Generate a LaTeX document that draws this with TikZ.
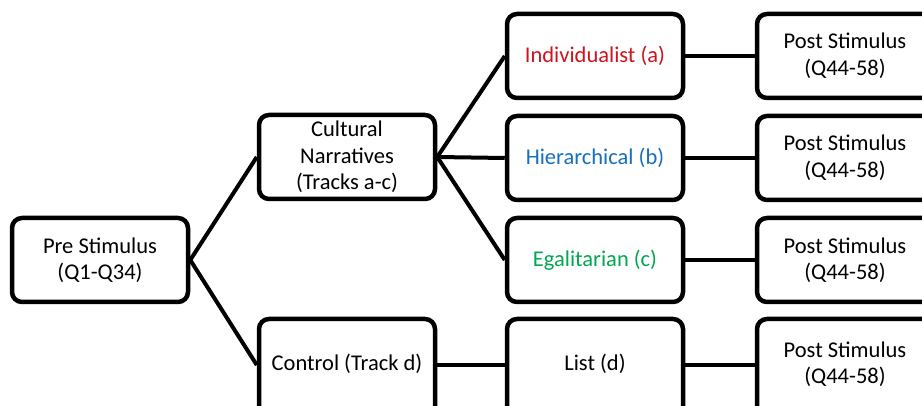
\documentclass[tikz,border=0pt]{standalone}
\usepackage{fontspec}
\setmainfont{Carlito}
\definecolor{indred}{HTML}{D0141E}
\definecolor{hierblue}{HTML}{1670BE}
\definecolor{egalgreen}{HTML}{00A84F}
\begin{document}
\begin{tikzpicture}[x=1pt,y=-1pt,
  stage/.style={draw=black, line width=4.5pt, rounded corners=10pt, fill=white,
    minimum width=176pt, minimum height=84pt, align=center,
    font=\fontsize{22.5}{26.5}\selectfont, inner sep=1pt},
  lowstage/.style={stage, minimum height=104pt, text depth=17pt},
  link/.style={line width=4pt}]
\useasboundingbox (0,0) rectangle (922,406);
\begin{scope}
\clip (0,0) rectangle (922,406);
% first column
\node[stage] (pre) at (100,260) {Pre Stimulus\\(Q1-Q34)};
% treatment split
\node[stage] (cult) at (347,157) {Cultural\\Narratives\\(Tracks a-c)};
\node[lowstage] (ctrl) at (347,371) {Control (Track d)};
% stimulus tracks
\node[stage, text=indred] (ind) at (595,56) {Individualist (a)};
\node[stage, text=hierblue] (hier) at (595,158) {Hierarchical (b)};
\node[stage, text=egalgreen] (egal) at (595,260) {Egalitarian (c)};
\node[lowstage] (list) at (595,371) {List (d)};
% post measures
\node[stage] (post1) at (845,56) {Post Stimulus\\(Q44-58)};
\node[stage] (post2) at (845,158) {Post Stimulus\\(Q44-58)};
\node[stage] (post3) at (845,260) {Post Stimulus\\(Q44-58)};
\node[lowstage] (post4) at (845,371) {Post Stimulus\\(Q44-58)};
% connectors (the bottom row joins at text height)
\draw[link] (pre.east) -- ([yshift=6pt]ctrl.west);
\draw[link] (pre.east) -- (cult.west);
\draw[link] (cult.east) -- (ind.west);
\draw[link] (cult.east) -- (hier.west);
\draw[link] (cult.east) -- (egal.west);
\draw[link] ([yshift=6pt]ctrl.east) -- ([yshift=6pt]list.west);
\draw[link] (ind.east) -- (post1.west);
\draw[link] (hier.east) -- (post2.west);
\draw[link] (egal.east) -- (post3.west);
\draw[link] ([yshift=6pt]list.east) -- ([yshift=6pt]post4.west);
\end{scope}
\end{tikzpicture}
\end{document}
